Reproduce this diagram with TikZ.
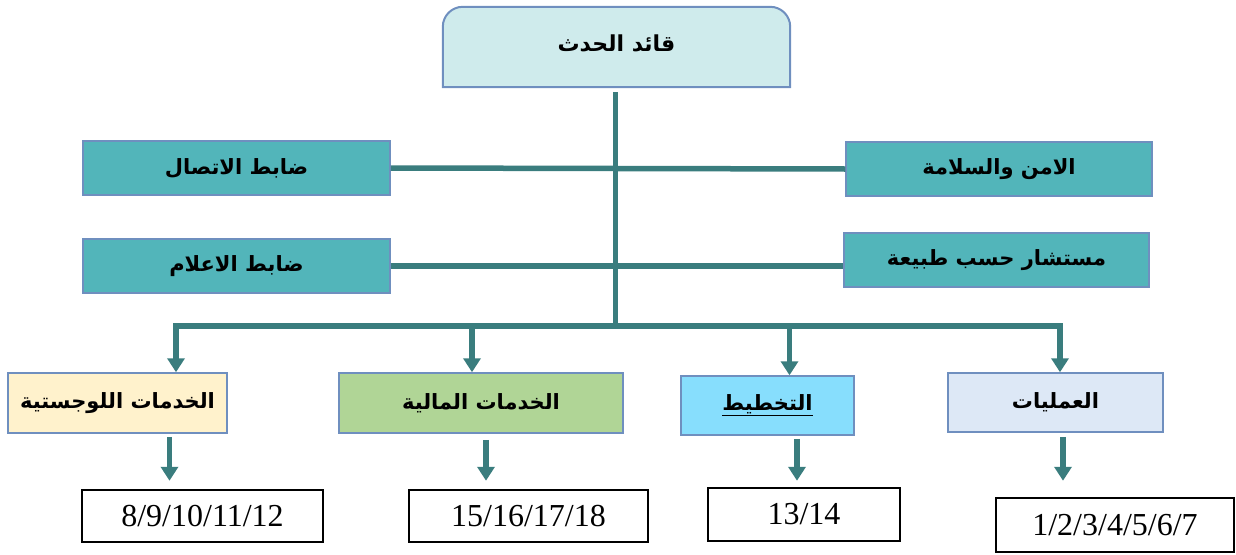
\documentclass[tikz,border=0pt]{standalone}
\usepackage{xcolor}
\usepackage{fontspec}
\usepackage{tikz}
\usetikzlibrary{arrows.meta}
\usetikzlibrary{calc}
\TeXXeTstate=1
\newfontfamily\arabicfont[Script=Arabic]{DejaVu Sans}
\newfontfamily\numfont{Liberation Serif}
\definecolor{linkteal}{HTML}{3A7D7E}
\definecolor{edgeblue}{HTML}{6F8FBF}
\definecolor{headfill}{HTML}{CFEBEC}
\definecolor{tealfill}{HTML}{52B5BA}
\definecolor{logfill}{HTML}{FFF2CC}
\definecolor{finfill}{HTML}{B0D596}
\definecolor{planfill}{HTML}{87DEFD}
\definecolor{opsfill}{HTML}{DDE8F6}
\tikzset{
    unitbox/.style={draw=edgeblue, line width=1.5pt, minimum height=#1,
        font=\arabicfont\bfseries\fontsize{21}{25}\selectfont},
    unitbox/.default=54pt,
    numbox/.style={draw=black, line width=2.5pt, minimum height=52pt,
        font=\numfont\fontsize{32}{36}\selectfont},
    link/.style={draw=linkteal, line width=5.5pt},
    arr/.style={link, -{Triangle[width=17pt, length=14pt]}},
}
\newcommand{\ar}[1]{\beginR #1\endR}

\begin{document}
\begin{tikzpicture}[x=1pt, y=-1pt]
    \useasboundingbox (0,0) rectangle (1236,554);
    \node[minimum width=347pt, minimum height=80pt] (head) at (616.5,47) {};
    \filldraw[fill=headfill, draw=edgeblue, line width=2pt]
        (head.south west) [rounded corners=20pt] -- (head.north west) -- (head.north east)
        [sharp corners] -- (head.south east) -- cycle;
    \node[font=\arabicfont\bfseries\fontsize{22}{26}\selectfont] (headtxt) at (616.5,43) {\ar{قائد الحدث}};

    \node[unitbox, fill=tealfill, minimum width=307pt] (comm) at (236.5,168) {\ar{ضابط الاتصال}};
    \node[unitbox, fill=tealfill, minimum width=307pt] (media) at (236.5,266) {\ar{ضابط الاعلام}};
    \node[unitbox, fill=tealfill, minimum width=306pt] (safety) at (999,169) {\ar{الامن والسلامة}};
    \node[unitbox, fill=tealfill, minimum width=305pt] (advisor) at (996.5,260) {\ar{مستشار حسب طبيعة}};

    \node[unitbox=60pt, fill=logfill, minimum width=219pt] (logist) at (117.5,403) {\ar{الخدمات اللوجستية}};
    \node[unitbox=60pt, fill=finfill, minimum width=284pt] (finance) at (481,403) {\ar{الخدمات المالية}};
    \node[unitbox=59pt, fill=planfill, minimum width=173pt] (plan) at (767.5,405.5) {\underline{\ar{التخطيط}}};
    \node[unitbox=59pt, fill=opsfill, minimum width=215pt] (ops) at (1055.5,402.5) {\ar{العمليات}};

    \node[numbox, minimum width=241pt] (nlog) at (202.5,516) {8/9/10/11/12};
    \node[numbox, minimum width=239pt] (nfin) at (528.5,516) {15/16/17/18};
    \node[numbox, minimum width=192pt, minimum height=53pt] (nplan) at (804,514.5) {13/14};
    \node[numbox, minimum width=238pt, minimum height=54pt] (nops) at (1115,525) {1/2/3/4/5/6/7};

    \coordinate (barL) at (176,326);
    \coordinate (barR) at (1060,326);
    \draw[link] ([xshift=-1pt, yshift=-5pt]head.south) -- ([xshift=-1pt]head.south |- barL);
    \draw[link] (comm.east) -- (safety.west);
    \draw[link] (media.east) -- (media.east -| advisor.west);
    \draw[link] ([xshift=-2.75pt]barL) -- ([xshift=2.75pt]barR);
    \draw[arr] (barL) -- (barL |- logist.north);
    \draw[arr] ([xshift=-9pt]finance.north |- barL) -- ([xshift=-9pt]finance.north);
    \draw[arr] ([xshift=22pt]plan.north |- barL) -- ([xshift=22pt]plan.north);
    \draw[arr] (barR) -- (barR |- ops.north);

    \draw[arr] ([xshift=52pt, yshift=-3pt]logist.south) -- ([xshift=-33pt, yshift=8pt]nlog.north);
    \draw[arr] ([xshift=5pt, yshift=-6pt]finance.south) -- ([xshift=-42.5pt, yshift=8pt]nfin.north);
    \draw[arr] ([xshift=29.5pt, yshift=-3pt]plan.south) -- ([xshift=-7pt, yshift=6pt]nplan.north);
    \draw[arr] ([xshift=7.5pt, yshift=-4pt]ops.south) -- ([xshift=-52pt, yshift=16pt]nops.north);
\end{tikzpicture}
\end{document}
